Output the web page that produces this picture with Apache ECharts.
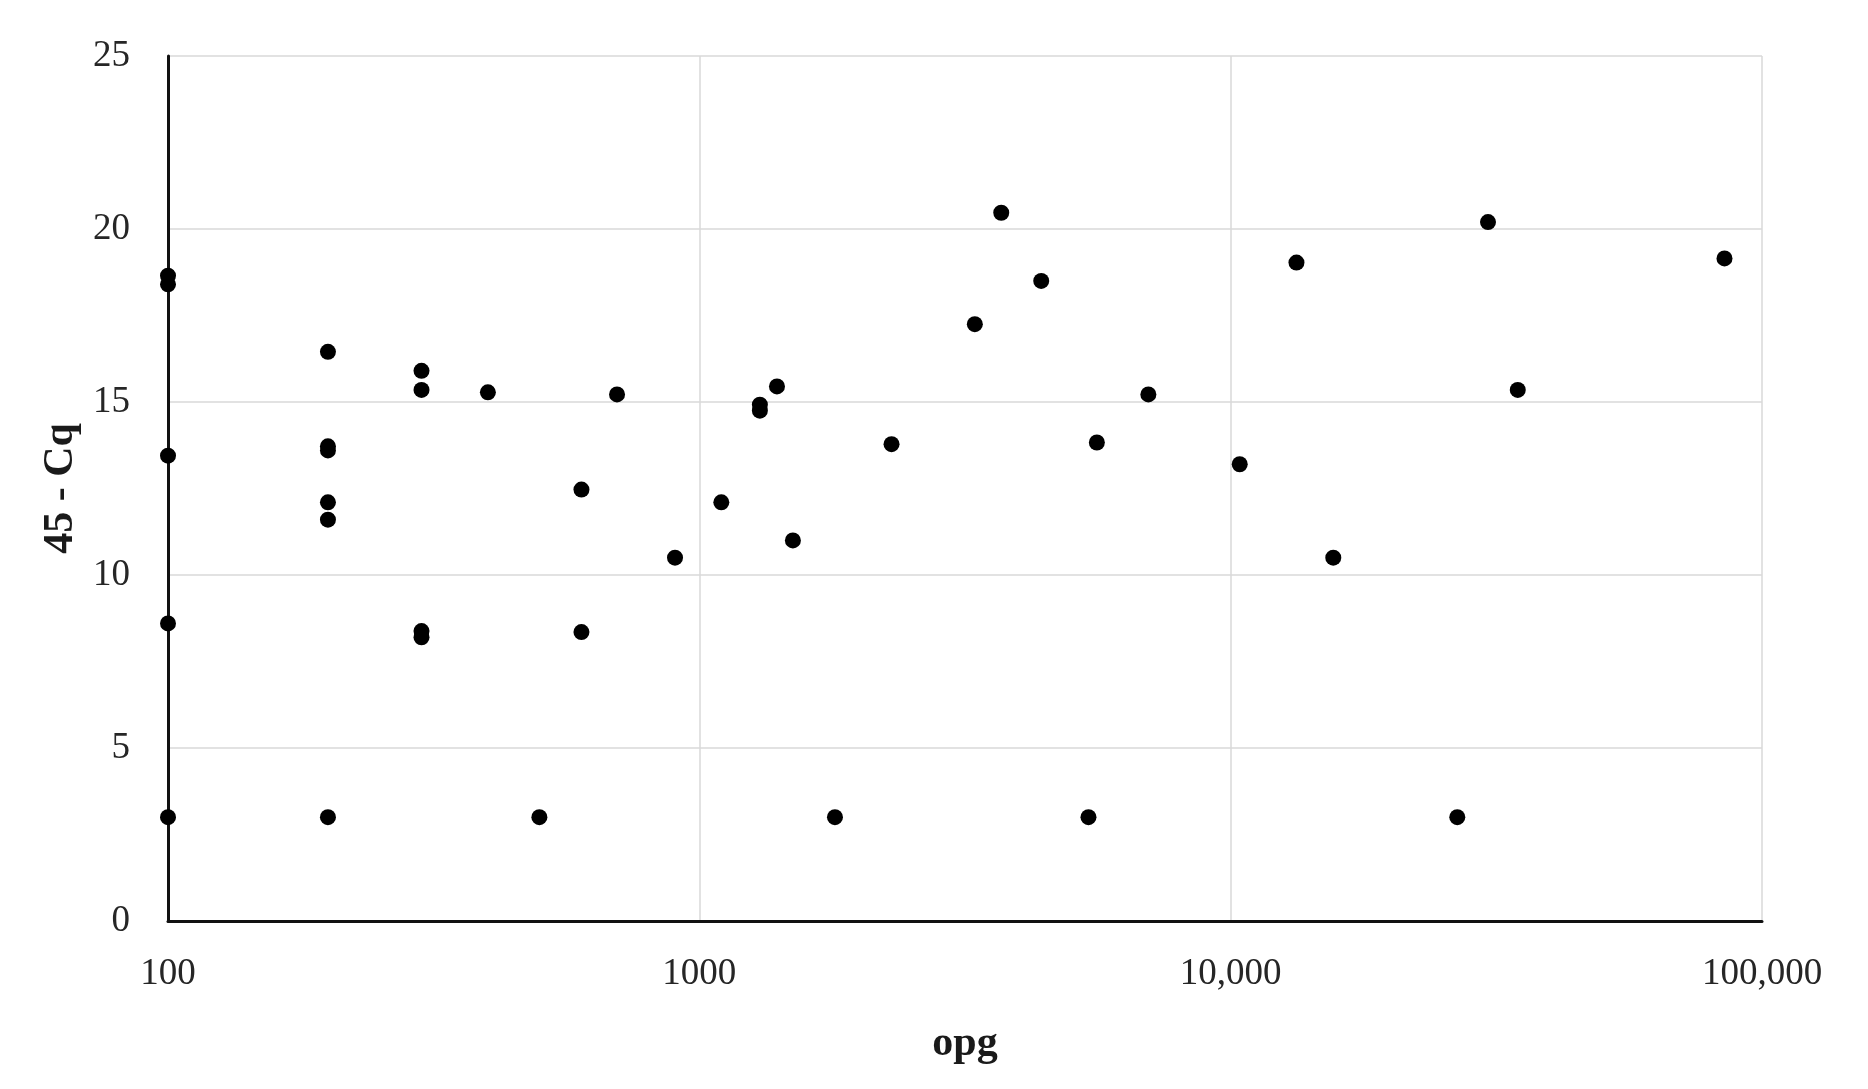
<!DOCTYPE html>
<html>
<head>
<meta charset="utf-8">
<script src="https://cdn.jsdelivr.net/npm/echarts@6/dist/echarts.min.js"></script>
<style>
html, body { margin: 0; padding: 0; background: #fff; }
#chart { width: 1868px; height: 1089px; }
</style>
</head>
<body>
<div id="chart"></div>
<script>
// opg (x, log scale) and 45 - Cq (y)
var opg = [100, 100, 100, 100, 100,
    200, 200, 200, 200, 200, 200,
    300, 300, 300, 300,
    400, 500, 600, 600, 700, 900, 1100, 1300, 1300, 1400, 1500, 1800,
    2300, 3300, 3700, 4400, 5400, 5600, 7000,
    10400, 13300, 15600, 26700, 30500, 34700, 85000];
var cq = [18.65, 18.4, 13.45, 8.6, 3.0,
    16.45, 13.72, 13.6, 12.1, 11.6, 3.0,
    15.9, 15.35, 8.38, 8.2,
    15.28, 3.0, 12.47, 8.35, 15.22, 10.5, 12.1, 14.92, 14.75, 15.45, 11.0, 3.0,
    13.78, 17.25, 20.47, 18.5, 3.0, 13.83, 15.22,
    13.2, 19.03, 10.5, 3.0, 20.2, 15.35, 19.15];

var xTicks = [100, 1000, 10000, 100000];
var xTickText = ['100', '1000', '10,000', '100,000'];
var yTicks = [0, 5, 10, 15, 20, 25];

var points = [];
for (var i = 0; i < opg.length; i++) {
    points.push([opg[i], cq[i]]);
}

var myChart = echarts.init(document.getElementById('chart'));

var font = '"Liberation Serif", "DejaVu Serif", serif';

var option = {
    backgroundColor: '#ffffff',
    animation: false,
    grid: {
        left: 168,
        right: 106,
        top: 56,
        bottom: 168,
        outerBoundsMode: 'none'
    },
    xAxis: {
        type: 'log',
        logBase: 10,
        min: xTicks[0],
        max: xTicks[xTicks.length - 1],
        name: 'opg',
        nameLocation: 'middle',
        nameGap: 102,
        nameTextStyle: {
            fontFamily: font,
            fontWeight: 'bold',
            fontSize: 42,
            color: '#1a1a1a'
        },
        axisLine: {
            show: true,
            lineStyle: { color: '#111', width: 3 }
        },
        axisTick: { show: false },
        axisLabel: {
            margin: 35,
            fontFamily: font,
            fontSize: 37,
            color: '#262626',
            formatter: function (v) {
                var k = xTicks.indexOf(Math.round(v));
                return k >= 0 ? xTickText[k] : '';
            }
        },
        splitLine: {
            show: true,
            lineStyle: { color: '#d9d9d9', width: 1.5 }
        }
    },
    yAxis: {
        type: 'value',
        min: yTicks[0],
        max: yTicks[yTicks.length - 1],
        interval: 5,
        name: '45 - Cq',
        nameLocation: 'middle',
        nameGap: 86,
        nameTextStyle: {
            fontFamily: font,
            fontWeight: 'bold',
            fontSize: 42,
            color: '#1a1a1a'
        },
        axisLine: {
            show: true,
            lineStyle: { color: '#111', width: 3 }
        },
        axisTick: { show: false },
        axisLabel: {
            margin: 38,
            fontFamily: font,
            fontSize: 37,
            color: '#262626'
        },
        splitLine: {
            show: true,
            lineStyle: { color: '#d9d9d9', width: 1.5 }
        }
    },
    series: [{
        type: 'scatter',
        data: points,
        symbol: 'circle',
        symbolSize: 16,
        itemStyle: { color: '#000', opacity: 1 },
        z: 5
    }]
};

myChart.setOption(option);
</script>
</body>
</html>
